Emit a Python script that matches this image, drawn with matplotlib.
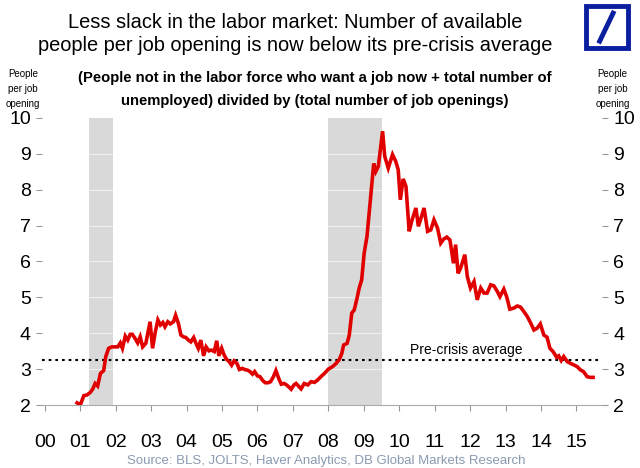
import matplotlib
matplotlib.use("Agg")
import matplotlib.pyplot as plt
from matplotlib.patches import Rectangle
from matplotlib.lines import Line2D

plt.rcParams["font.family"] = ["Liberation Sans", "DejaVu Sans"]

# Dados (ano decimal, pessoas por vaga)
anos = [
    2000.91, 2001.00, 2001.10, 2001.19, 2001.28, 2001.35, 2001.42, 2001.49, 2001.57, 2001.66,
    2001.72, 2001.80, 2001.89, 2001.99, 2002.06, 2002.13, 2002.19, 2002.27, 2002.34, 2002.41,
    2002.47, 2002.55, 2002.62, 2002.69, 2002.76, 2002.85, 2002.97, 2003.04, 2003.11, 2003.19,
    2003.26, 2003.33, 2003.39, 2003.47, 2003.54, 2003.63, 2003.69, 2003.77, 2003.84, 2003.91,
    2003.98, 2004.05, 2004.12, 2004.20, 2004.26, 2004.33, 2004.40, 2004.48, 2004.55, 2004.63,
    2004.70, 2004.78, 2004.85, 2004.91, 2004.99, 2005.06, 2005.13, 2005.20, 2005.27, 2005.34,
    2005.42, 2005.49, 2005.57, 2005.64, 2005.72, 2005.79, 2005.86, 2005.92, 2006.00, 2006.07,
    2006.15, 2006.22, 2006.30, 2006.37, 2006.45, 2006.52, 2006.60, 2006.67, 2006.75, 2006.82,
    2006.90, 2006.95, 2007.03, 2007.09, 2007.23, 2007.32, 2007.42, 2007.51, 2007.61, 2007.70,
    2007.79, 2007.89, 2008.00, 2008.12, 2008.22, 2008.31, 2008.38, 2008.43, 2008.53, 2008.59,
    2008.66, 2008.73, 2008.81, 2008.87, 2008.94, 2009.01, 2009.09, 2009.15, 2009.22, 2009.28,
    2009.34, 2009.41, 2009.53, 2009.59, 2009.69, 2009.81, 2009.90, 2009.97, 2010.03, 2010.11,
    2010.19, 2010.28, 2010.35, 2010.47, 2010.54, 2010.63, 2010.70, 2010.80, 2010.89, 2010.98,
    2011.08, 2011.17, 2011.25, 2011.34, 2011.43, 2011.53, 2011.59, 2011.66, 2011.73, 2011.85,
    2011.92, 2012.01, 2012.11, 2012.20, 2012.30, 2012.39, 2012.48, 2012.58, 2012.67, 2012.77,
    2012.84, 2012.95, 2013.03, 2013.12, 2013.23, 2013.33, 2013.42, 2013.52, 2013.61, 2013.70,
    2013.80, 2013.89, 2013.98, 2014.08, 2014.17, 2014.25, 2014.34, 2014.44, 2014.50, 2014.57,
    2014.64, 2014.74, 2014.83, 2014.92, 2015.02, 2015.11, 2015.20, 2015.30, 2015.39, 2015.47,
]
pessoas_por_vaga = [
    2.06, 2.00, 2.26, 2.28, 2.35, 2.44, 2.60, 2.53, 2.88, 2.96,
    3.35, 3.58, 3.62, 3.62, 3.62, 3.73, 3.58, 3.92, 3.81, 3.97,
    3.97, 3.85, 3.73, 3.90, 3.62, 3.72, 4.32, 3.58, 4.00, 4.37,
    4.23, 4.30, 4.18, 4.32, 4.26, 4.32, 4.50, 4.27, 3.95, 3.90,
    3.88, 3.81, 3.76, 3.88, 3.73, 3.58, 3.81, 3.37, 3.62, 3.51,
    3.53, 3.49, 3.79, 3.37, 3.58, 3.39, 3.27, 3.21, 3.11, 3.23,
    3.16, 2.99, 3.02, 2.99, 2.97, 2.93, 2.86, 2.93, 2.81, 2.79,
    2.68, 2.62, 2.62, 2.65, 2.79, 2.96, 2.74, 2.58, 2.60, 2.56,
    2.49, 2.44, 2.56, 2.60, 2.45, 2.60, 2.56, 2.65, 2.63, 2.70,
    2.79, 2.88, 3.00, 3.07, 3.16, 3.27, 3.44, 3.67, 3.72, 3.95,
    4.56, 4.65, 4.98, 5.26, 5.49, 6.23, 6.70, 7.35, 8.09, 8.73,
    8.51, 8.65, 9.63, 8.93, 8.60, 8.98, 8.79, 8.56, 7.72, 8.30,
    8.09, 6.84, 7.12, 7.49, 6.98, 7.26, 7.49, 6.84, 6.88, 7.16,
    6.93, 6.51, 6.62, 6.68, 6.60, 5.95, 6.47, 5.67, 5.81, 6.19,
    5.58, 5.26, 5.44, 4.93, 5.26, 5.12, 5.12, 5.35, 5.32, 5.16,
    5.02, 5.23, 5.02, 4.67, 4.70, 4.76, 4.73, 4.60, 4.47, 4.30,
    4.09, 4.14, 4.26, 3.95, 3.89, 3.58, 3.49, 3.33, 3.37, 3.24,
    3.35, 3.21, 3.16, 3.12, 3.07, 2.98, 2.93, 2.79, 2.77, 2.77,
]

# Recessões (início, fim)
recessoes = [(2001.25, 2001.92), (2008.0, 2009.5)]
media_pre_crise = 3.25
rotulos_anos = [f"{a % 100:02d}" for a in range(2000, 2016)]

fig = plt.figure(figsize=(6.4, 4.68), dpi=100)
ax = fig.add_axes([0.0656, 0.1346, 0.875, 0.6134])

for ini, fim in recessoes:
    ax.axvspan(ini, fim, color="#d9d9d9", lw=0, zorder=0)

for y in range(3, 10):
    ax.axhline(y, color="white", lw=0.8, alpha=0.6, zorder=1)

ax.axhline(media_pre_crise, color="black", lw=1.5, dashes=(1.3, 1.9), zorder=2)
ax.text(2011.9, 3.53, "Pre-crisis average", fontsize=10, ha="center", va="center")

ax.plot(anos, pessoas_por_vaga, color="#e00000", lw=2.6, zorder=3, solid_joinstyle="miter")

ax.set_xlim(1999.92, 2015.72)
ax.set_ylim(2, 10)
ax.set_xticks(range(2000, 2016))
ax.set_xticklabels(rotulos_anos)
ax.set_yticks(range(2, 11))

for lado in ["top", "left", "right"]:
    ax.spines[lado].set_visible(False)
ax.spines["bottom"].set_color("#aaaaaa")
ax.tick_params(axis="x", colors="#999999", labelcolor="black", labelsize=14, length=4, pad=17)
ax.tick_params(axis="y", colors="#999999", labelcolor="black", labelsize=14, length=4,
               left=True, right=True, labelleft=True, labelright=True, pad=4)

# Títulos
fig.text(0.461, 0.952, "Less slack in the labor market: Number of available", fontsize=14.4,
         ha="center", va="center")
fig.text(0.461, 0.903, "people per job opening is now below its pre-crisis average", fontsize=14.4,
         ha="center", va="center")
fig.text(0.492, 0.834, "(People not in the labor force who want a job now + total number of",
         fontsize=10.7, fontweight="bold", ha="center", va="center")
fig.text(0.492, 0.785, "unemployed) divided by (total number of job openings)",
         fontsize=10.7, fontweight="bold", ha="center", va="center")
for xp in [0.036, 0.957]:
    fig.text(xp, 0.81, "People\nper job\nopening", fontsize=7, ha="center", va="center",
             linespacing=1.6)

fig.text(0.51, 0.003, "Source: BLS, JOLTS, Haver Analytics, DB Global Markets Research",
         fontsize=9.5, color="#8a9ab0", ha="center", va="bottom")

# Logo
azul = "#0a1fa0"
fig.patches.append(Rectangle((0.915, 0.897), 0.066, 0.09, transform=fig.transFigure,
                             facecolor="white", edgecolor=azul, lw=3.5))
fig.lines.append(Line2D([0.937, 0.958], [0.912, 0.972], transform=fig.transFigure,
                        color=azul, lw=3.5))

fig.savefig("out.png", dpi=100)
